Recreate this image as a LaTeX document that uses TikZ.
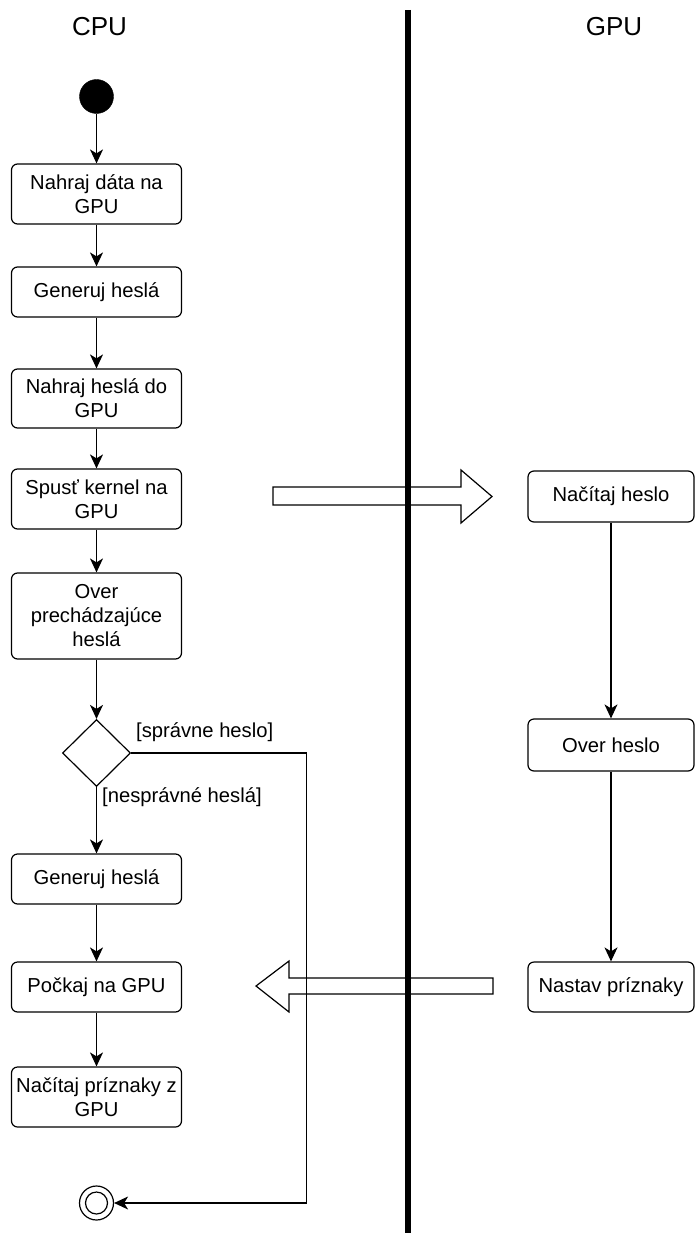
\documentclass[tikz,border=0pt]{standalone}
\usepackage{fontspec}
\setmainfont{Liberation Sans}
\usetikzlibrary{shapes.geometric,arrows.meta}
\tikzset{
  box/.style={draw, line width=1.2pt, rounded corners=6pt, minimum width=170pt, align=center, inner sep=0pt, font=\fontsize{20.2}{24}\selectfont},
  gbox/.style={box, minimum width=166pt},
  conn/.style={line width=1.2pt, -{Stealth[length=14pt,width=13pt,inset=4pt]}},
  lbl/.style={font=\fontsize{20.2}{24}\selectfont, inner sep=0pt, anchor=west},
  blockarrow/.style={draw, line width=1.2pt, fill=white, line join=miter},
  lane/.style={font=\fontsize{26}{30}\selectfont, inner sep=0pt}
}
\begin{document}
\begin{tikzpicture}[x=1pt,y=-1pt]
\useasboundingbox (0,0) rectangle (694,1233);
% lane titles
\node[lane] (cpu) at (99.5,27) {CPU};
\node[lane] (gpu) at (614,27) {GPU};
% start
\node[circle, fill=black, draw, minimum size=34pt, inner sep=0pt] (start) at (96.5,96.5) {};
% CPU boxes
\node[box, minimum height=60pt] (b1) at (96.5,194) {Nahraj dáta na\\GPU};
\node[box, minimum height=50pt] (b2) at (96.5,292) {Generuj heslá};
\node[box, minimum height=59pt] (b3) at (96.5,398.5) {Nahraj heslá do\\GPU};
\node[box, minimum height=60pt] (b4) at (96.5,499) {Spusť kernel na\\GPU};
\node[box, minimum height=86pt] (b5) at (96.5,616) {Over\\prechádzajúce\\heslá};
\node[diamond, draw, line width=1.2pt, minimum width=68pt, minimum height=67pt, inner sep=0pt] (d) at (96.5,753) {};
\node[box, minimum height=50pt] (b6) at (96.5,879) {Generuj heslá};
\node[box, minimum height=50pt] (b7) at (96.5,987) {Počkaj na GPU};
\node[box, minimum height=60pt] (b8) at (96.5,1097) {Načítaj príznaky z\\GPU};
% end
\node[circle, draw, line width=1.2pt, minimum size=34pt, inner sep=0pt] (end) at (96.5,1203) {};
\node[circle, draw, line width=1.2pt, minimum size=22pt, inner sep=0pt] (endin) at (96.5,1203) {};
% GPU boxes
\node[gbox, minimum height=51pt] (g1) at (611,496.5) {Načítaj heslo};
\node[gbox, minimum height=52pt] (g2) at (611,745) {Over heslo};
\node[gbox, minimum height=50pt] (g3) at (611,987) {Nastav príznaky};
% guard labels
\node[lbl] (l1) at (136,732) {[správne heslo]};
\node[lbl] (l2) at (102,797) {[nesprávné heslá]};
% block arrows
\draw[blockarrow] (273,487) -- (461,487) -- (461,470) -- (492,496.5) -- (461,523) -- (461,505) -- (273,505) -- cycle;
\draw[blockarrow] (493,978) -- (289,978) -- (289,961) -- (256,986) -- (289,1012) -- (289,994) -- (493,994) -- cycle;
% connectors
\draw[conn] (start) -- (b1);
\draw[conn] (b1) -- (b2);
\draw[conn] (b2) -- (b3);
\draw[conn] (b3) -- (b4);
\draw[conn] (b4) -- (b5);
\draw[conn] (b5) -- (d);
\draw[conn] (d) -- (b6);
\draw[conn] (b6) -- (b7);
\draw[conn] (b7) -- (b8);
\coordinate (c1) at (306.5,753);
\coordinate (c2) at (306.5,1203);
\draw[conn] (d.east) -- (c1) -- (c2) -- (end.east);
\draw[conn] (g1) -- (g2);
\draw[conn] (g2) -- (g3);
% divider
\coordinate (dtop) at (407.5,10);
\coordinate (dbot) at (407.5,1233);
\draw[line width=6pt] (dtop) -- (dbot);
\end{tikzpicture}
\end{document}
